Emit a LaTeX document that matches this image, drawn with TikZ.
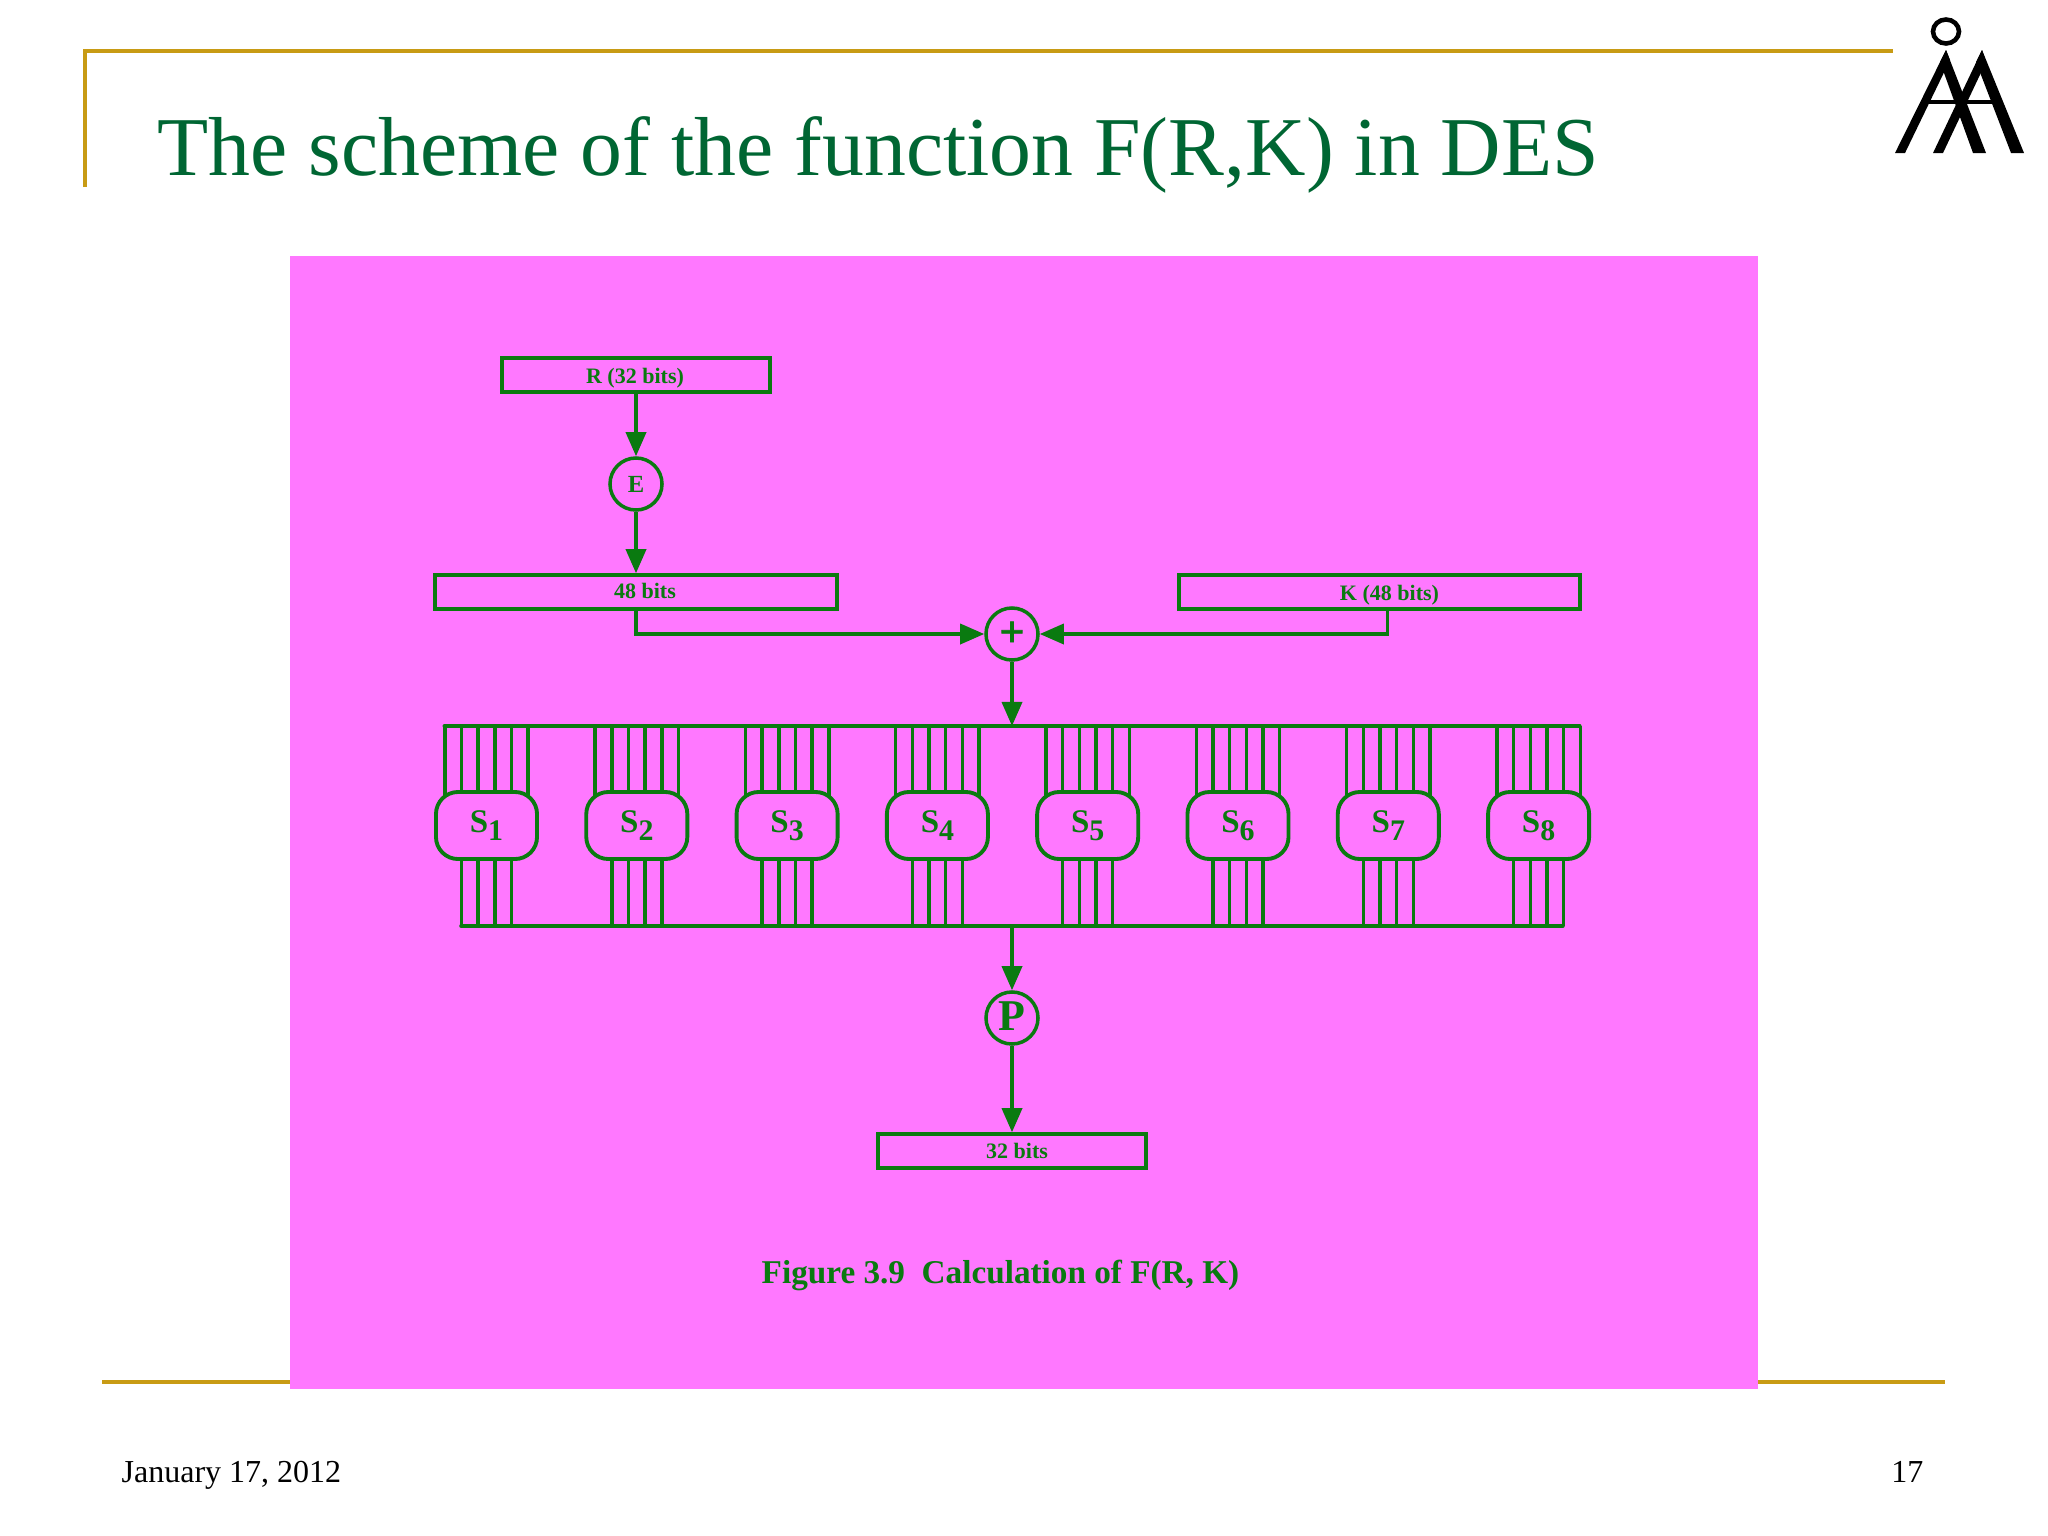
\documentclass[tikz,border=0pt]{standalone}
\usepackage{fontspec}
\setmainfont{Liberation Serif}
\usetikzlibrary{arrows.meta}
\definecolor{desgreen}{HTML}{0A7A10}
\definecolor{titlegreen}{HTML}{006633}
\definecolor{slidegold}{HTML}{C89B14}
\definecolor{figpink}{HTML}{FF78FF}
\newcommand{\slabel}[1]{S\raisebox{-2.2pt}{\fontsize{8.5}{9}\selectfont #1}}
\tikzset{
  rule/.style={slidegold,line width=1.14pt},
  wire/.style={desgreen,line width=1pt},
  arrow/.style={wire,-{Triangle[length=2.4mm,width=2mm]}},
  bitbox/.style={draw=desgreen,line width=1pt,inner sep=0pt,minimum height=0.34cm},
  bittext/.style={text=desgreen,inner sep=0pt,font=\bfseries\fontsize{6.26}{7}\selectfont},
  permcircle/.style={circle,draw=desgreen,line width=1pt,inner sep=0pt,minimum size=0.52cm,text=desgreen},
  sbrick/.style={draw=desgreen,fill=figpink,line width=1.1pt,rounded corners=0.22cm,inner sep=0pt,
    minimum width=1.01cm,minimum height=0.67cm,text=desgreen,font=\bfseries\fontsize{9.39}{10}\selectfont},
  logopart/.style={fill=black,draw=none}
}
\begin{document}
\begin{tikzpicture}[x=0.01cm,y=-0.01cm]
  \useasboundingbox (0,0) rectangle (2048,1536);

  \draw[rule] (85,187) -- (85,51) -- (1893,51);
  \draw[rule] (102,1382) -- (1945,1382);
  \fill[figpink] (290,256) rectangle (1758,1389);

  \node[anchor=base west,inner sep=0pt,text=titlegreen,font=\fontsize{23.8}{25}\selectfont] (title) at (157,175)
    {The scheme of the function F(R,K) in DES};
  \node[anchor=base west,inner sep=0pt,font=\fontsize{9.1}{10}\selectfont] (date) at (121,1482) {January 17, 2012};
  \node[anchor=base east,inner sep=0pt,font=\fontsize{9.1}{10}\selectfont] (page) at (1924,1482) {17};

  \draw[black,line width=1.3pt] (1946,31.5) ellipse (13 and 12);
  \fill[logopart] (1946,50) -- (1895,153) -- (1905,153) -- (1950,60) -- cycle;
  \fill[logopart] (1940,62) -- (1973,153) -- (1986,153) -- (1946,50) -- cycle;
  \fill[logopart] (1982,50) -- (1933,153) -- (1943,153) -- (1986,62) -- cycle;
  \fill[logopart] (1976,62) -- (2011,153) -- (2024,153) -- (1982,50) -- cycle;
  \fill[logopart] (1926,100) rectangle (1996,103.5);

  \node[bitbox,minimum width=2.68cm] (rbox) at (636,375) {};
  \node[bittext] (rtext) at (635,378.5) {R (32 bits)};
  \node[permcircle,font=\bfseries\fontsize{7}{8}\selectfont] (e) at (636,484) {E};
  \node[bitbox,minimum width=4.02cm] (lbox) at (636,592) {};
  \node[bittext] (ltext) at (645,590.5) {48 bits};
  \node[bitbox,minimum width=4.01cm] (kbox) at (1379.5,592) {};
  \node[bittext] (ktext) at (1389.5,595.5) {K (48 bits)};
  \node[permcircle,font=\bfseries\fontsize{12.5}{13}\selectfont] (plus) at (1012,634) {\addfontfeature{FakeBold=1.5}+};
  \node[permcircle,font=\bfseries\fontsize{12.5}{13}\selectfont] (p) at (1012,1018) {\raisebox{0.8pt}{P}};
  \node[bitbox,minimum width=2.68cm] (obox) at (1012,1151) {};
  \node[bittext] (otext) at (1017,1151) {32 bits};

  \coordinate (topl) at (444.3,726);
  \coordinate (topr) at (1579.8,726);
  \coordinate (botl) at (461,926);
  \coordinate (botr) at (1563,926);
  \coordinate (topm) at (1012,726);
  \coordinate (botm) at (1012,926);

  \foreach \i in {1,...,8}{
    \pgfmathsetmacro{\cx}{486.5+150.3*(\i-1)}
    \coordinate (c\i) at (\cx,825.5);
    \foreach \dx in {-41.7,-25,-8.3,8.3,25,41.7}
      \draw[wire] ([xshift=\dx*0.01cm]c\i) -- ([xshift=\dx*0.01cm]c\i |- topl);
    \foreach \dx in {-25,-8.3,8.3,25}
      \draw[wire] ([xshift=\dx*0.01cm]c\i) -- ([xshift=\dx*0.01cm]c\i |- botl);
    \node[sbrick] (s\i) at (c\i) {\slabel{\i}};
  }
  \draw[wire,line cap=round] (topl) -- (topr);
  \draw[wire,line cap=round] (botl) -- (botr);

  \draw[arrow] (rbox) -- (e);
  \draw[arrow] (e) -- (lbox);
  \draw[arrow] (lbox.south) |- (plus);
  \draw[arrow] ([xshift=0.08cm]kbox.south) |- (plus);
  \draw[arrow] (plus) -- (topm);
  \draw[arrow] (botm) -- (p);
  \draw[arrow] (p) -- (obox);

  \node[text=desgreen,inner sep=0pt,font=\bfseries\fontsize{9.45}{11}\selectfont] (caption) at (1000.5,1275)
    {Figure 3.9\ \ Calculation of F(R, K)};
\end{tikzpicture}
\end{document}
